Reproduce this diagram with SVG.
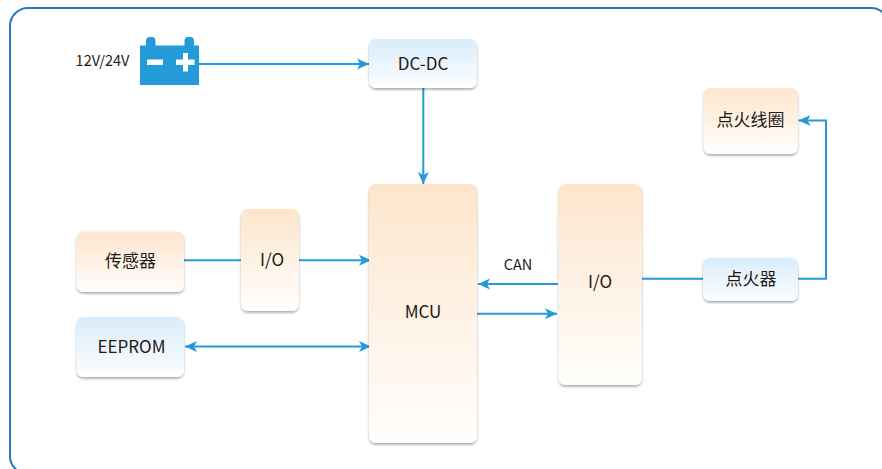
<svg xmlns="http://www.w3.org/2000/svg" width="882" height="469" viewBox="0 0 882 469">
<style>
text{font-family:"Noto Sans CJK SC","Noto Sans",sans-serif;fill:#231815;text-anchor:middle;font-size:17px}
.o{fill:url(#orange);filter:url(#sh)}
.b{fill:url(#blue);filter:url(#sh)}
.c{fill:none;stroke:#239bd8;stroke-width:2}
</style>
<defs>
<linearGradient id="orange" x1="0" y1="0" x2="0" y2="1"><stop offset="0" stop-color="#fde5cc"/><stop offset="1" stop-color="#fffefd"/></linearGradient>
<linearGradient id="blue" x1="0" y1="0" x2="0" y2="1"><stop offset="0" stop-color="#d8ecfb"/><stop offset="1" stop-color="#fdfeff"/></linearGradient>
<filter id="sh" x="-10%" y="-10%" width="120%" height="120%"><feDropShadow dx="0" dy="1.8" stdDeviation="1.2" flood-color="#000" flood-opacity="0.32"/></filter>
<marker id="arr" markerUnits="userSpaceOnUse" markerWidth="13" markerHeight="12" refX="12" refY="6" orient="auto-start-reverse"><path d="M0 0.500L12 6L0 11.500L3 6Z" fill="#239bd8"/></marker>
</defs>
<rect x="10" y="8" width="879" height="466" rx="18" fill="#fff" stroke="#2479c0" stroke-width="2"/>
<g id="connectors">
<path class="c" d="M199 64H369" marker-end="url(#arr)"/>
<path class="c" d="M423.300 88V184" marker-end="url(#arr)"/>
<path class="c" d="M184 260.300H241"/>
<path class="c" d="M299 260.300H371" marker-end="url(#arr)"/>
<path class="c" d="M185 346.500H371" marker-start="url(#arr)" marker-end="url(#arr)"/>
<path class="c" d="M558 284H478" marker-end="url(#arr)"/>
<path class="c" d="M477 313.700H557" marker-end="url(#arr)"/>
<path class="c" d="M642 278.700H703"/>
<path class="c" d="M798 278.700H826V120.500H798.500" marker-end="url(#arr)"/>
</g>
<g id="battery">
<path fill="#239bd8" d="M140 45.500H146V41Q146 37 150 37H152Q155.500 37 155.500 41V45.500H184.500V41Q184.500 37 188 37H190.500Q194 37 194 41V45.500H199V85H140Z"/>
<path fill="#fff" d="M147 59.500H163V65H147ZM176 59.500H183V53H188V59.500H194.500V65H188V71.500H183V65H176Z"/>
<text x="102.500" y="65.500" style="font-size:14.500px">12V/24V</text>
</g>
<g id="dcdc"><rect class="b" x="369" y="39" width="108" height="49" rx="7"/><text x="423" y="69.500">DC-DC</text></g>
<g id="mcu"><rect class="o" x="369" y="184" width="108" height="259" rx="7"/><text x="423" y="318">MCU</text></g>
<g id="io-right"><rect class="o" x="558.500" y="184" width="83.500" height="201" rx="7"/><text x="600" y="288">I/O</text></g>
<g id="io-left"><rect class="o" x="241" y="209" width="58" height="102" rx="7"/><text x="272" y="266">I/O</text></g>
<g id="sensor"><rect class="o" x="76.500" y="231.500" width="107.500" height="60.500" rx="7"/><text x="130.500" y="267">传感器</text></g>
<g id="eeprom"><rect class="b" x="76.500" y="317" width="107.500" height="60" rx="7"/><text x="131.500" y="352.500">EEPROM</text></g>
<g id="coil"><rect class="o" x="703.500" y="88" width="94.500" height="66" rx="7"/><text x="750.500" y="125.500">点火线圈</text></g>
<g id="igniter"><rect class="b" x="703" y="258" width="95" height="43" rx="7"/><text x="751" y="284.500">点火器</text></g>
<g id="can-label"><text x="518" y="270" style="font-size:14.500px">CAN</text></g>
</svg>
